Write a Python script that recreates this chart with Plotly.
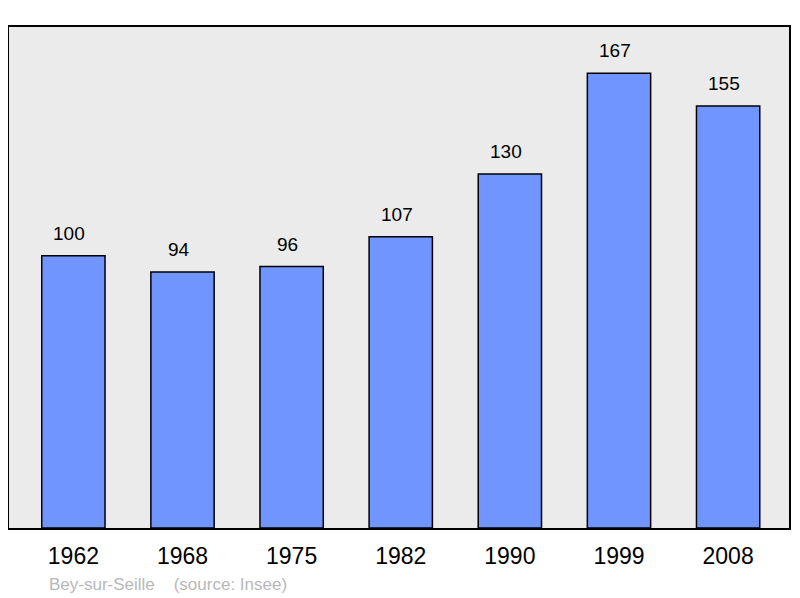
import plotly.graph_objects as go

years = ["1962", "1968", "1975", "1982", "1990", "1999", "2008"]
population = [100, 94, 96, 107, 130, 167, 155]
town = "Bey-sur-Seille"
source_note = "(source: Insee)"

fig = go.Figure()
fig.add_trace(go.Bar(
    x=list(range(len(years))), y=population, width=0.58,
    marker=dict(color="#7095ff", line=dict(color="#000000", width=1.5)),
    hoverinfo="skip",
))

for i, v in enumerate(population):
    fig.add_annotation(x=i, y=v, text=str(v), showarrow=False,
                       yanchor="bottom", yshift=10, xshift=-4,
                       font=dict(family="Liberation Sans", size=19, color="#000000"))

fig.add_annotation(xref="paper", yref="paper", x=0.049, y=-0.113, xanchor="left", yanchor="middle",
                   text=town + "&nbsp;&nbsp;&nbsp;&nbsp;" + source_note, showarrow=False,
                   font=dict(family="Liberation Sans", size=17, color="#b8b8b8"))

fig.update_layout(
    width=784, height=590,
    margin=dict(l=1, r=1, t=19, b=70),
    paper_bgcolor="#ffffff", plot_bgcolor="#ebebeb",
    showlegend=False,
    xaxis=dict(range=[-0.59, 6.558], showgrid=False, zeroline=False,
               tickmode="array", tickvals=list(range(len(years))), ticktext=years,
               showline=True, linecolor="#000000", linewidth=2, mirror=True,
               ticks="", tickfont=dict(family="Liberation Sans", size=23, color="#000000"),
               ticklabelstandoff=6),
    yaxis=dict(range=[0, 184], showgrid=False, zeroline=False, showticklabels=False,
               showline=True, linecolor="#000000", linewidth=2, mirror=True, ticks=""),
)

fig.write_html("out.html")
